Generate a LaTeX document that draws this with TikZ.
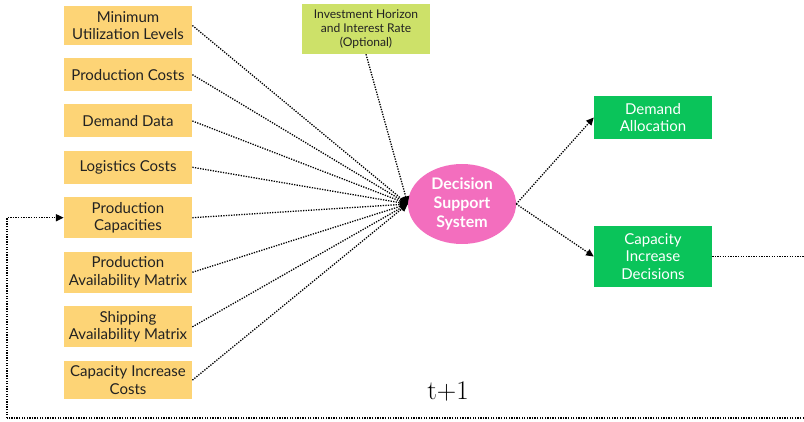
\documentclass[tikz,border=0pt]{standalone}
\usepackage{fontspec}
\usepackage{xcolor}
\usepackage{tikz}
\usetikzlibrary{shapes.geometric, arrows.meta, positioning}
\newfontfamily\boxfont{Lato}
\definecolor{inputyellow}{RGB}{253, 212, 118}
\definecolor{optgreen}{RGB}{205, 225, 105}
\definecolor{dsspink}{RGB}{243, 110, 190}
\definecolor{outgreen}{RGB}{10, 196, 90}
\definecolor{boxtext}{RGB}{34, 34, 34}

\begin{document}
\begin{tikzpicture}[
          x=0.03cm, y=-0.03cm,
          node distance=0.385cm,
          inbox/.style={rectangle, fill=inputyellow, text=boxtext, minimum width=3.85cm, minimum height=0.99cm, inner ysep=4.2pt, align=center, font=\boxfont\fontsize{12.8}{15.2}\selectfont},
          outbox/.style={rectangle, fill=outgreen, text=white, minimum width=3.54cm, minimum height=1.29cm, inner ysep=4.2pt, align=center, font=\boxfont\fontsize{12.8}{15.2}\selectfont},
          optbox/.style={rectangle, fill=optgreen, text=boxtext, minimum width=3.84cm, minimum height=1.5cm, align=center, font=\boxfont\fontsize{10.3}{12.2}\selectfont},
          dss/.style={ellipse, fill=dsspink, text=white, minimum width=3.24cm, minimum height=2.4cm, inner sep=0pt, align=center, font=\boxfont\bfseries\fontsize{13.6}{16.2}\selectfont},
          flow/.style={-{Triangle[length=6.5pt, width=6pt]}, line width=1.1pt, dash pattern=on 1.1pt off 1.1pt, color=black},
          feed/.style={line width=1.1pt, dash pattern=on 1.1pt off 1.1pt, color=black}
        ]
          \useasboundingbox (0,0) rectangle (804,422);

          \node[inbox] (minutil) at (128,25.5) {Minimum\\Utilization Levels};
          \node[inbox, below=of minutil] (prodcost) {Production Costs};
          \node[inbox, below=of prodcost] (demand) {Demand Data};
          \node[inbox, below=of demand] (logcost) {Logistics Costs};
          \node[inbox, below=of logcost] (prodcap) {Production\\Capacities};
          \node[inbox, below=of prodcap] (prodavail) {Production\\Availability Matrix};
          \node[inbox, below=of prodavail] (shipavail) {Shipping\\Availability Matrix};
          \node[inbox, below=of shipavail] (capcost) {Capacity Increase\\Costs};

          \node[optbox] (horizon) at (366,29) {Investment Horizon\\and Interest Rate\\(Optional)};

          \node[dss] (system) at (462,204) {Decision\\Support\\System};

          \node[outbox] (alloc) at (653,117.5) {Demand\\Allocation};
          \node[outbox, minimum height=1.83cm] (capdec) at (653,256.5) {Capacity\\Increase\\Decisions};

          \node[font=\fontsize{23}{28}\selectfont] (tplus) at (448,391) {t+1};

          \coordinate (fbright) at (810,418);
          \coordinate (fbleft) at (7,418);

          \foreach \src in {minutil, prodcost, demand, logcost, prodcap, prodavail, shipavail, capcost}
            \draw[flow] (\src.east) -- (system.west);
          \draw[flow] (horizon.south) -- (system.west);

          \draw[flow] (system.east) -- (alloc.west);
          \draw[flow] (system.east) -- (capdec.west);

          \draw[feed] (capdec.east) -- (capdec.east -| fbright) |- (fbleft);
          \draw[flow] (fbleft) |- (prodcap.west);
        \end{tikzpicture}
\end{document}
